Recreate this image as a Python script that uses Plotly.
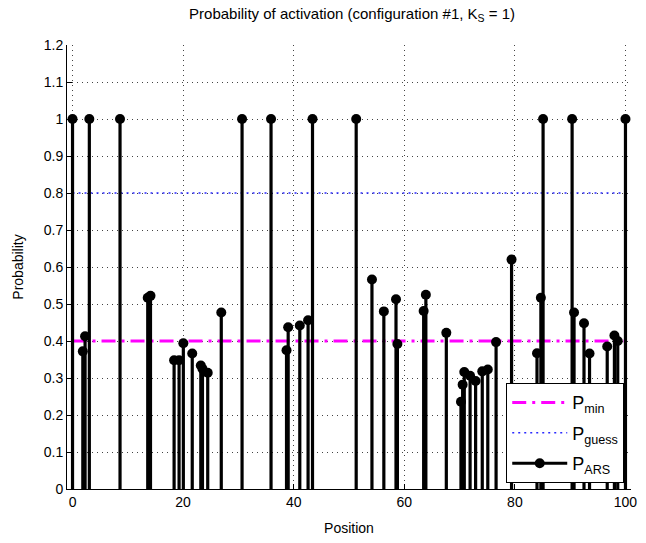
import plotly.graph_objects as go

# Data
positions = [0.0, 1.86, 2.27, 3.04, 8.59, 13.6, 14.1, 18.37, 19.27, 20.04, 21.65,
             23.2, 23.5, 24.45, 26.9, 30.66, 35.9, 38.7, 39.0, 41.1, 42.6, 43.4,
             51.3, 54.15, 56.3, 58.5, 58.75, 63.5, 63.9, 67.6, 70.25, 70.55, 70.85,
             71.9, 72.9, 74.1, 75.1, 76.6, 79.4, 84.0, 84.7, 85.1, 90.35, 90.7,
             92.5, 93.5, 96.7, 98.0, 98.6, 100.0]
p_ars = [1.0, 0.372, 0.413, 1.0, 1.0, 0.517, 0.522, 0.348, 0.348, 0.394, 0.366,
         0.334, 0.325, 0.314, 0.477, 1.0, 1.0, 0.375, 0.437, 0.442, 0.456, 1.0,
         1.0, 0.566, 0.48, 0.513, 0.392, 0.481, 0.525, 0.422, 0.236, 0.282, 0.316,
         0.306, 0.292, 0.318, 0.323, 0.397, 0.62, 0.367, 0.517, 1.0, 1.0, 0.477,
         0.448, 0.366, 0.385, 0.415, 0.4, 1.0]
p_min = 0.4
p_guess = 0.8
x_span = [0, 100]
x_ticks = [0, 20, 40, 60, 80, 100]
y_ticks = [round(0.1 * i, 1) for i in range(13)]

FONT = "Liberation Sans, Arial, Helvetica, sans-serif"

stem_x, stem_y = [], []
for xp, yp in zip(positions, p_ars):
    stem_x += [xp, xp, None]
    stem_y += [0, yp, None]

fig = go.Figure()
fig.add_trace(go.Scatter(x=x_span, y=[p_min, p_min], mode="lines",
                         line=dict(color="#ff00ff", width=3, dash="14px,6px,3px,6px"),
                         name="P<sub>min</sub>", legendgroup="a"))
fig.add_trace(go.Scatter(x=x_span, y=[p_guess, p_guess], mode="lines",
                         line=dict(color="#2a2aff", width=1.5, dash="2px,4px"),
                         name="P<sub>guess</sub>", legendgroup="b"))
fig.add_trace(go.Scatter(x=stem_x, y=stem_y, mode="lines",
                         line=dict(color="black", width=3.2), showlegend=False,
                         hoverinfo="skip"))
fig.add_trace(go.Scatter(x=positions, y=p_ars, mode="markers",
                         marker=dict(color="black", size=10), showlegend=False))
fig.add_trace(go.Scatter(x=[None], y=[None], mode="lines+markers",
                         line=dict(color="black", width=3),
                         marker=dict(color="black", size=10),
                         name="P<sub>ARS</sub>", legendgroup="c"))

axis_common = dict(showgrid=True, gridcolor="#444444", griddash="1px,4px", gridwidth=1,
                   showline=True, linecolor="black", linewidth=1, ticks="inside",
                   ticklen=5, tickcolor="black", zeroline=False,
                   tickfont=dict(family=FONT, size=14, color="black"))

fig.update_xaxes(range=[-1, 101], tickvals=x_ticks,
                 title=dict(text="Position", font=dict(family=FONT, size=14, color="black"),
                            standoff=14),
                 **axis_common)
fig.update_yaxes(range=[0, 1.2], tickvals=y_ticks, ticktext=[f"{v:g}" for v in y_ticks],
                 title=dict(text="Probability", font=dict(family=FONT, size=14, color="black"),
                            standoff=16),
                 **axis_common)

fig.update_layout(
    width=646, height=543,
    margin=dict(l=67, r=9, t=45, b=50),
    paper_bgcolor="white", plot_bgcolor="white",
    title=dict(text="Probability of activation (configuration #1, K<sub>S</sub> = 1)",
               x=0.545, xanchor="center", y=0.985, yanchor="top",
               font=dict(family=FONT, size=15, color="black")),
    legend=dict(x=0.988, y=0.013, xanchor="right", yanchor="bottom",
                bgcolor="white", bordercolor="black", borderwidth=1,
                font=dict(family=FONT, size=18, color="black"),
                itemwidth=55, tracegroupgap=4),
    showlegend=True,
)

fig.write_html("out.html")
